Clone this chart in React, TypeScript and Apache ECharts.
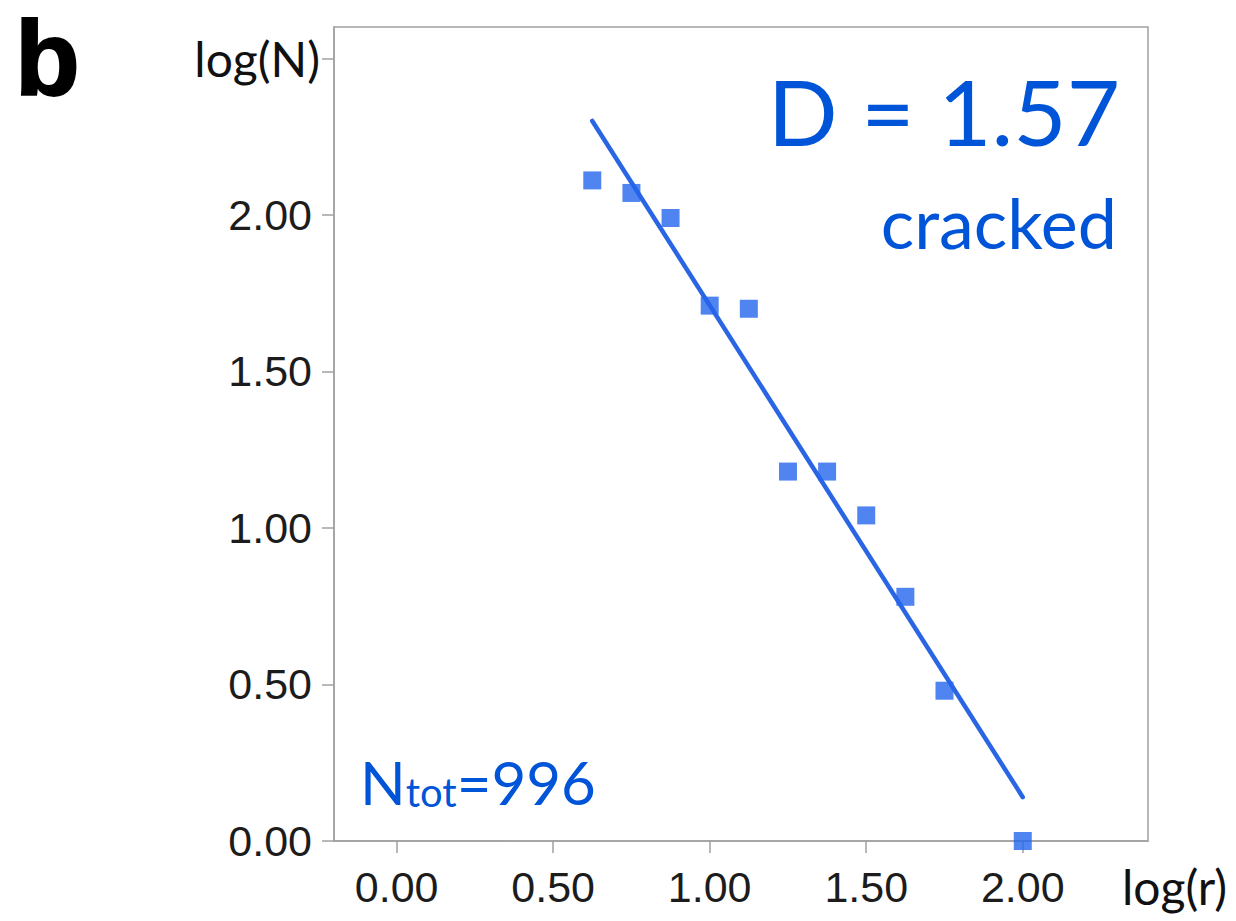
import React, { useEffect, useRef } from "react";
import * as echarts from "echarts";

// log(r) values of the box-counting points
const logR = [0.625, 0.75, 0.875, 1.0, 1.125, 1.25, 1.375, 1.5, 1.625, 1.75, 2.0];
// log(N) values
const logN = [2.11, 2.07, 1.99, 1.71, 1.70, 1.18, 1.18, 1.04, 0.78, 0.48, 0.0];
// fitted line end points
const fitX = [0.625, 2.0];
const fitY = [2.3, 0.14];
const xTicks = [0, 0.5, 1.0, 1.5, 2.0];
const yTicks = [0, 0.5, 1.0, 1.5, 2.0, 2.5];
const yNameValue = 2.5;
const yName = "log(N)";
const xName = "log(r)";
const dimText = "D = 1.57";
const condText = "cracked";
const totalText = "996";

const BLUE_TEXT = "#0054d8";
const BLUE_MARK = "#2465ec";
const BLUE_LINE = "#2a66e4";
const GRAY = "#a0a0a0";
const HUMANIST = "Lato, 'Open Sans', sans-serif";
const TICKFONT = "'Liberation Sans', Arial, sans-serif";

export default function App() {
  const ref = useRef<HTMLDivElement>(null);
  useEffect(() => {
    const chart = echarts.init(ref.current!, null, { renderer: "svg" });
    chart.setOption({
      animation: false,
      backgroundColor: "#ffffff",
      grid: {
        left: 334,
        right: 88,
        top: 27,
        bottom: 80,
        show: true,
        borderColor: GRAY,
        borderWidth: 1.5,
        backgroundColor: "transparent",
      },
      xAxis: {
        type: "value",
        min: -0.2,
        max: 2.4,
        splitLine: { show: false },
        axisLine: { show: true, onZero: false, lineStyle: { color: GRAY, width: 1.5 } },
        axisTick: {
          show: true,
          customValues: xTicks,
          length: 12,
          lineStyle: { color: GRAY, width: 1.5 },
        },
        axisLabel: {
          customValues: xTicks,
          margin: 24,
          color: "#1c1c1c",
          fontFamily: TICKFONT,
          fontSize: 43,
          formatter: (v: number) => v.toFixed(2),
        },
      },
      yAxis: {
        type: "value",
        min: 0,
        max: 2.6,
        splitLine: { show: false },
        axisLine: { show: true, onZero: false, lineStyle: { color: GRAY, width: 1.5 } },
        axisTick: {
          show: true,
          customValues: yTicks,
          length: 12,
          lineStyle: { color: GRAY, width: 1.5 },
        },
        axisLabel: {
          customValues: yTicks,
          margin: 22,
          color: "#1c1c1c",
          fontFamily: TICKFONT,
          fontSize: 43,
          formatter: (v: number) =>
            Math.abs(v - yNameValue) < 1e-6 ? "{n|" + yName + "}" : v.toFixed(2),
          rich: {
            n: {
              fontFamily: HUMANIST,
              fontSize: 48,
              color: "#111111",
              padding: [0, -8, 0, 0],
            },
          },
        },
      },
      series: [
        {
          type: "line",
          data: fitX.map((x, i) => [x, fitY[i]]),
          symbol: "none",
          lineStyle: { color: BLUE_LINE, width: 4.5, cap: "round" },
          z: 2,
          clip: false,
        },
        {
          type: "scatter",
          data: logR.map((x, i) => [x, logN[i]]),
          symbol: "rect",
          symbolSize: 18,
          itemStyle: { color: BLUE_MARK },
          z: 3,
          clip: false,
        },
      ],
      graphic: [
        {
          type: "text",
          x: 15,
          y: 58,
          style: {
            text: "b",
            font: "bold 106px 'Liberation Sans', Arial, sans-serif",
            fill: "#000000",
            align: "left",
            verticalAlign: "middle",
            stroke: "#000000",
            lineWidth: 2,
          },
        },
        {
          type: "text",
          x: 1120,
          y: 110,
          style: {
            text: dimText,
            fontFamily: HUMANIST,
            fontSize: 92,
            fill: BLUE_TEXT,
            align: "right",
            verticalAlign: "middle",
          },
        },
        {
          type: "text",
          x: 1117,
          y: 222,
          style: {
            text: condText,
            fontFamily: HUMANIST,
            fontSize: 70,
            fill: BLUE_TEXT,
            align: "right",
            verticalAlign: "middle",
          },
        },
        {
          type: "text",
          x: 360,
          y: 782,
          style: {
            text: "{a|N}{s|tot}{a|=" + totalText + "}",
            align: "left",
            verticalAlign: "middle",
            rich: {
              a: {
                fontFamily: HUMANIST,
                fontSize: 60,
                lineHeight: 60,
                fill: BLUE_TEXT,
                color: BLUE_TEXT,
                verticalAlign: "bottom",
              },
              s: {
                fontFamily: HUMANIST,
                fontSize: 40,
                lineHeight: 34,
                fill: BLUE_TEXT,
                color: BLUE_TEXT,
                verticalAlign: "bottom",
              },
            },
          },
        },
        {
          type: "text",
          x: 1122,
          y: 886,
          style: {
            text: xName,
            fontFamily: HUMANIST,
            fontSize: 48,
            fill: "#111111",
            align: "left",
            verticalAlign: "middle",
          },
        },
      ],
    });
    return () => chart.dispose();
  }, []);
  return (
    <div
      ref={ref}
      style={{ position: "fixed", left: 0, top: 0, width: 1236, height: 921, background: "#fff" }}
    />
  );
}
